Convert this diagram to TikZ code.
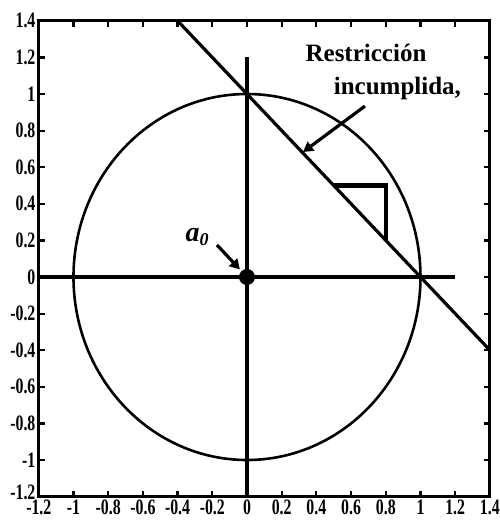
\documentclass[tikz,border=0pt]{standalone}
\usepackage{fontspec}
\setmainfont{Liberation Serif}
\newfontfamily\tickfont[FakeStretch=0.72]{Liberation Serif}
\usepackage{tikz}
\usetikzlibrary{arrows.meta}
\tikzset{
  frameline/.style={line width=1.6pt},
  axisline/.style={line width=1.6pt},
  tickline/.style={line width=1.1pt},
  unitcircle/.style={line width=1.3pt},
  limitline/.style={line width=1.6pt},
  rightangle/.style={line width=2.2pt},
  ticklabel/.style={
    font=\tickfont\bfseries\fontsize{11}{12}\selectfont, inner sep=1.5pt},
  notelabel/.style={
    font=\bfseries\fontsize{12.5}{14}\selectfont, inner sep=0pt, anchor=base},
  notearrow/.style={
    -{Triangle[length=5pt,width=5.5pt]}, line width=1.6pt},
  pointdot/.style={circle, fill=black, inner sep=0pt, minimum size=8pt},
}

\begin{document}
\begin{tikzpicture}[x=86.75pt, y=91.5pt]
  \useasboundingbox (-1.4236,-1.3388) rectangle (1.458,1.5137);
  % axes box, ticks and numbers
  \draw[frameline] (-1.2,-1.2) rectangle (1.4,1.4);
  \foreach \v [count=\i] in {-1.2,-1,-0.8,-0.6,-0.4,-0.2,0,0.2,0.4,0.6,0.8,1,1.2,1.4} {
    \draw[tickline] (\v,-1.2) -- ++(0,3pt);
    \draw[tickline] (\v,1.4) -- ++(0,-3pt);
    \draw[tickline] (-1.2,\v) -- ++(3pt,0);
    \draw[tickline] (1.4,\v) -- ++(-3pt,0);
    \node[ticklabel, below] (xl\i) at (\v,-1.2) {\v};
    \ifnum\i=1
      \node[ticklabel, left, yshift=2pt] (yl\i) at (-1.2,\v) {\v};
    \else
      \node[ticklabel, left] (yl\i) at (-1.2,\v) {\v};
    \fi
  }
  % axes and unit circle
  \draw[axisline] (-1.2,0) -- (1.2,0);
  \draw[axisline] (0,-1.2) -- (0,1.2);
  \draw[unitcircle] (0,0) circle [radius=1];
  % violated constraint
  \draw[limitline] (-0.4,1.4) -- (1.4,-0.4);
  \draw[rightangle] (0.5,0.5) -- (0.8,0.5) -- (0.8,0.2);
  \node[notelabel] (restr) at (0.686,1.175) {Restricción};
  \node[notelabel] (incum) at (0.867,0.995) {incumplida,};
  \coordinate (rtail) at (0.68,0.934);
  \coordinate (rhit)  at (0.323,0.683);
  \draw[notearrow] (rtail) -- (rhit);
  % starting point
  \node[pointdot] (a0) at (0,0) {};
  \node[font=\bfseries\itshape\fontsize{14}{16}\selectfont, inner sep=0pt]
    (a0lab) at (-0.288,0.219) {a\raisebox{-0.35ex}{\fontsize{9}{10}\selectfont 0}};
  \coordinate (a0tail) at (-0.173,0.175);
  \draw[notearrow, shorten >=1pt] (a0tail) -- (a0);
\end{tikzpicture}
\end{document}
